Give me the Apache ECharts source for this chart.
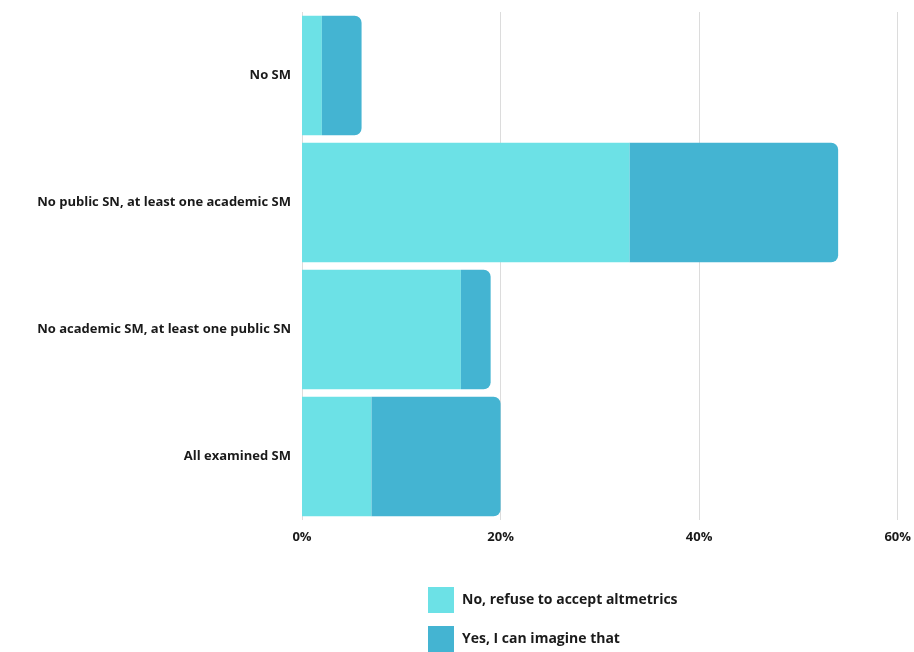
<!DOCTYPE html>
<html>
<head>
<meta charset="utf-8">
<script src="https://cdn.jsdelivr.net/npm/echarts@6/dist/echarts.min.js"></script>
<style>
  html, body { margin: 0; padding: 0; background: #fff; }
  #chart { width: 914px; height: 652px; }
</style>
</head>
<body>
<div id="chart"></div>
<script>
  // categories, bottom to top (ECharts draws category y axis from bottom)
  var categories = ['All examined SM', 'No academic SM, at least one public SN', 'No public SN, at least one academic SM', 'No SM'];
  var refuseValues = [7, 16, 33, 2];
  var imagineValues = [13, 3, 21, 4];
  var seriesNames = ['No, refuse to accept altmetrics', 'Yes, I can imagine that'];

  var font = '"Open Sans", "Noto Sans", sans-serif';
  var chart = echarts.init(document.getElementById('chart'));

  // one legend per item, stacked by hand (the vertical legend wraps near the bottom edge)
  function legendAt(name, top) {
    return {
      left: 428,
      top: top,
      padding: 0,
      itemWidth: 26,
      itemHeight: 26,
      icon: 'rect',
      textStyle: { fontFamily: font, fontWeight: 'bold', fontSize: 14, color: '#1a1a1a', padding: [0, 0, 0, 3] },
      data: [name]
    };
  }

  var option = {
    animation: false,
    color: ['#6ce1e6', '#44b4d2'],
    grid: { left: 302, right: 16, top: 12, bottom: 132, containLabel: false },
    legend: [legendAt(seriesNames[0], 587), legendAt(seriesNames[1], 626)],
    xAxis: {
      type: 'value',
      min: 0, max: 60, interval: 20,
      axisLine: { show: false },
      axisTick: { show: false },
      splitLine: { lineStyle: { color: '#dcdcdc', width: 1 } },
      axisLabel: {
        formatter: '{value}%',
        fontFamily: font, fontWeight: 'bold', fontSize: 13, color: '#1a1a1a', margin: 11
      }
    },
    yAxis: {
      type: 'category',
      data: categories,
      axisLine: { show: false },
      axisTick: { show: false },
      axisLabel: { fontFamily: font, fontWeight: 'bold', fontSize: 13, color: '#1a1a1a', margin: 11 }
    },
    series: [
      {
        name: seriesNames[0], type: 'bar', stack: 'total',
        barCategoryGap: '6%',
        data: refuseValues
      },
      {
        name: seriesNames[1], type: 'bar', stack: 'total',
        itemStyle: { borderRadius: [0, 7, 7, 0] },
        data: imagineValues
      }
    ]
  };
  chart.setOption(option);
</script>
</body>
</html>
